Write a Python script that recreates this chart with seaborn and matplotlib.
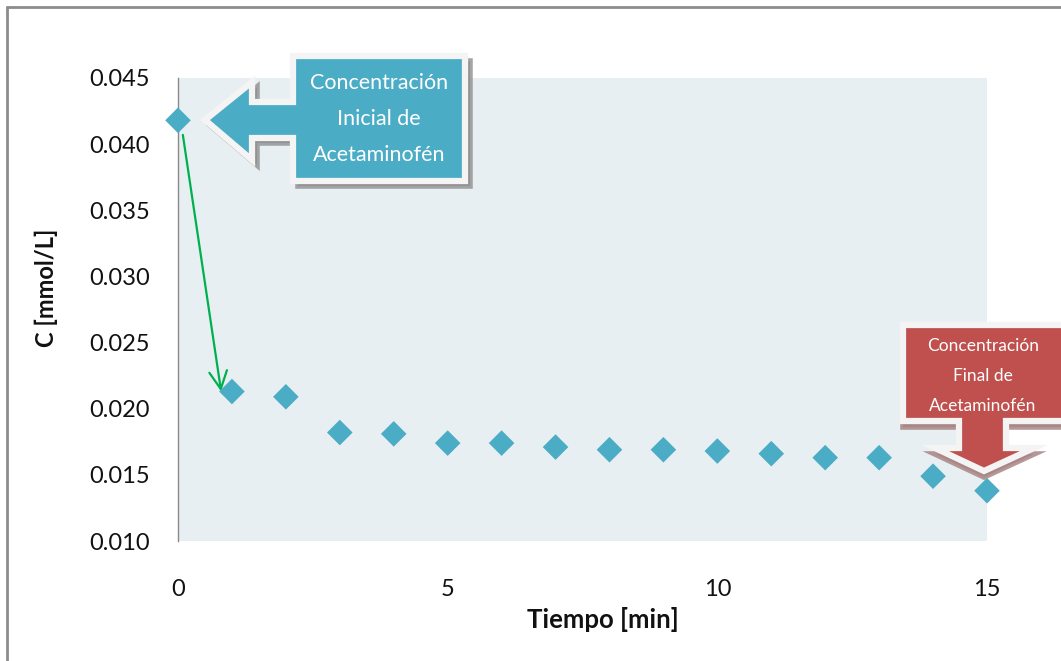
import matplotlib
matplotlib.use("Agg")
import matplotlib.pyplot as plt
import seaborn as sns
import pandas as pd
from matplotlib.patches import Polygon
from matplotlib.lines import Line2D

# ---- data ----
tiempo = [0, 1, 2, 3, 4, 5, 6, 7, 8, 9, 10, 11, 12, 13, 14, 15]
concentracion = [0.0418, 0.0213, 0.0209, 0.0182, 0.0181, 0.0174, 0.0174, 0.0171,
                 0.0169, 0.0169, 0.0168, 0.0166, 0.0163, 0.0163, 0.0149, 0.0138]
x_ticks = [0, 5, 10, 15]
y_ticks = [0.010, 0.015, 0.020, 0.025, 0.030, 0.035, 0.040, 0.045]
x_label = "Tiempo [min]"
y_label = "C [mmol/L]"
callout_inicial = "Concentración\nInicial de\nAcetaminofén"
callout_final = "Concentración\nFinal de\nAcetaminofén"

df = pd.DataFrame({"t": tiempo, "c": concentracion})

sns.set_theme(style="white")
FONTS = ["Lato", "DejaVu Sans"]
plt.rcParams["font.family"] = FONTS

W, H = 1061, 661
fig = plt.figure(figsize=(W / 100, H / 100), dpi=100)
fig.patch.set_facecolor("white")


def P(x, y):
    return (x / W, 1 - y / H)


ax = fig.add_axes([178 / W, 1 - 541 / H, (987 - 178) / W, (541 - 78) / H])
ax.set_facecolor("#e8eff2")

sns.scatterplot(data=df, x="t", y="c", marker="D", s=170, color="#4bacc6",
                edgecolor="none", linewidth=0, ax=ax, clip_on=False, zorder=10)

ax.set_xlim(0, 15)
ax.set_ylim(0.010, 0.045)
ax.set_xticks(x_ticks)
ax.set_yticks(y_ticks)
ax.set_xticklabels([str(v) for v in x_ticks])
ax.set_yticklabels([f"{v:.3f}" for v in y_ticks])
ax.tick_params(axis="both", length=0, labelsize=17, colors="#111111")
ax.tick_params(axis="y", pad=20)
ax.tick_params(axis="x", pad=27)

for s in ["top", "right", "bottom"]:
    ax.spines[s].set_visible(False)
ax.spines["left"].set_color("#8a8a8a")
ax.spines["left"].set_linewidth(1.0)

ax.set_xlabel(x_label, fontsize=18.5, fontweight="bold", color="#111111")
ax.set_ylabel(y_label, fontsize=17, fontweight="bold", color="#111111")
ax.xaxis.set_label_coords((603 - 178) / 809, (541 - 619) / 463)
ax.yaxis.set_label_coords((46 - 178) / 809, (541 - 288) / 463)
ax.xaxis.label.set_va("center")
ax.yaxis.label.set_va("center")

# green arrow from initial to second point
ax.annotate("", xy=(0.80, 0.0213), xytext=(0.09, 0.0407),
            arrowprops=dict(arrowstyle="->", color="#00b050", lw=1.6,
                            mutation_scale=32, shrinkA=0, shrinkB=0),
            annotation_clip=False, zorder=4)


def add_shape(verts, face, edge, lw, z, alpha=1.0):
    ax.add_patch(Polygon([P(*v) for v in verts], closed=True, transform=fig.transFigure,
                         facecolor=face, edgecolor=edge, lw=lw, alpha=alpha,
                         joinstyle="miter", clip_on=False, zorder=z))


# ---- blue callout (left-pointing) ----
blue = [(293, 56), (465, 56), (465, 181), (293, 181), (293, 138), (252, 138),
        (252, 160), (205, 120), (252, 82), (252, 102), (293, 102)]
add_shape([(x + 5, y + 5) for x, y in blue], "#8f8f8f", "#8f8f8f", 4, 5, 0.8)
add_shape(blue, "#4bacc6", "#f4f4f4", 4.5, 6)
ax.text(*P(379, 119), callout_inicial, transform=fig.transFigure, ha="center",
        va="center", color="white", fontsize=15.5, linespacing=2.0, zorder=7,
        clip_on=False, family=FONTS)

# ---- red callout (down-pointing) ----
red = [(903, 325), (1070, 325), (1070, 421), (1006, 421), (1006, 448), (1034, 448),
       (984, 471), (935, 448), (959, 448), (959, 421), (903, 421)]
add_shape([(x, y + 6) for x, y in red], "#a88585", "#a88585", 4, 5, 0.85)
add_shape(red, "#c0504d", "#f4f4f4", 4.5, 6)
ax.text(*P(983, 376), callout_final, transform=fig.transFigure, ha="center",
        va="center", color="white", fontsize=12.5, linespacing=2.05, zorder=7,
        clip_on=False, family=FONTS)

# figure frame (left and top edges)
fig.add_artist(Line2D([7 / W, 7 / W], [0, 1 - 7 / H], transform=fig.transFigure,
                      color="#8c8c8c", lw=2))
fig.add_artist(Line2D([7 / W, 1], [1 - 7 / H, 1 - 7 / H], transform=fig.transFigure,
                      color="#8c8c8c", lw=2))

fig.savefig("out.png", dpi=100)
